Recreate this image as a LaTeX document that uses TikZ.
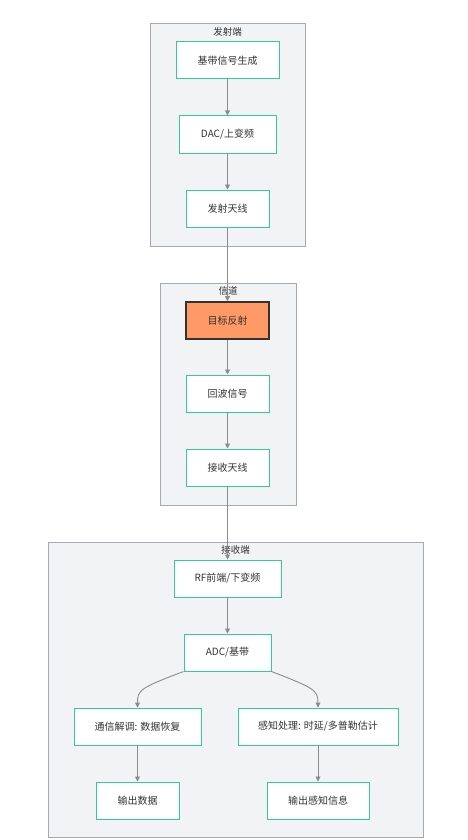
\documentclass[tikz,border=0pt]{standalone}
\usepackage{fontspec}
\setmainfont{Noto Sans CJK SC}
\usetikzlibrary{arrows.meta}
\definecolor{nodeborder}{HTML}{33CC99}
\definecolor{clfill}{HTML}{F2F3F5}
\definecolor{clborder}{HTML}{A8A8B0}
\definecolor{edgecol}{HTML}{8C8C8C}
\definecolor{txt}{HTML}{333333}
\definecolor{orangefill}{HTML}{FF9966}
\tikzset{
  cluster/.style={draw=clborder, fill=clfill, line width=1pt},
  cltitle/.style={font=\fontsize{9.5}{10}\selectfont, text=txt, inner sep=0pt},
  box/.style={draw=nodeborder, fill=white, line width=1pt, font=\fontsize{10}{11}\selectfont, text=txt, minimum height=37pt, inner sep=0pt},
  hot/.style={box, draw=txt, fill=orangefill, line width=1.6pt},
  flow/.style={draw=edgecol, line width=0.9pt, -{Triangle[length=5pt,width=5pt]}},
}
\begin{document}
\begin{tikzpicture}[x=1pt,y=-1pt]
\useasboundingbox (0,0) rectangle (467,840);
% clusters
\draw[cluster] (150,24) rectangle (305,246);
\node[cltitle] (t1) at (227.5,32) {发射端};
\draw[cluster] (160,283) rectangle (296,505);
\node[cltitle] (t2) at (228,291) {信道};
\draw[cluster] (48,542) rectangle (423,837);
\node[cltitle] (t3) at (235.5,550) {接收端};
% nodes
\node[box, minimum width=103pt] (bb) at (227.5,60.5) {基带信号生成};
\node[box, minimum width=97pt] (dac) at (227.5,134.5) {DAC/上变频};
\node[box, minimum width=83pt] (txa) at (227.5,208.5) {发射天线};
\node[hot, minimum width=83pt] (tgt) at (227.5,320.5) {目标反射};
\node[box, minimum width=83pt] (echo) at (227.5,393.5) {回波信号};
\node[box, minimum width=83pt] (rxa) at (227.5,467.5) {接收天线};
\node[box, minimum width=107pt] (rf) at (227.5,578.5) {RF前端/下变频};
\node[box, minimum width=87pt] (adc) at (227.5,652.5) {ADC/基带};
\node[box, minimum width=127pt] (comm) at (137.5,726.5) {通信解调: 数据恢复};
\node[box, minimum width=160pt] (sense) at (318,726.5) {感知处理: 时延/多普勒估计};
\node[box, minimum width=83pt] (outd) at (137.5,800.5) {输出数据};
\node[box, minimum width=102pt] (outs) at (318,800.5) {输出感知信息};
% edges
\draw[flow] (bb.south) -- (dac.north);
\draw[flow] (dac.south) -- (txa.north);
\draw[flow] (txa.south) -- (tgt.north);
\draw[flow] (tgt.south) -- (echo.north);
\draw[flow] (echo.south) -- (rxa.north);
\draw[flow] (rxa.south) -- (rf.north);
\draw[flow] (rf.south) -- (adc.north);
\draw[flow] (adc.south west) .. controls (140,688) and (137.5,690) .. (comm.north);
\draw[flow] (adc.south east) .. controls (314,688) and (318,690) .. (sense.north);
\draw[flow] (comm.south) -- (outd.north);
\draw[flow] (sense.south) -- (outs.north);
\end{tikzpicture}
\end{document}
